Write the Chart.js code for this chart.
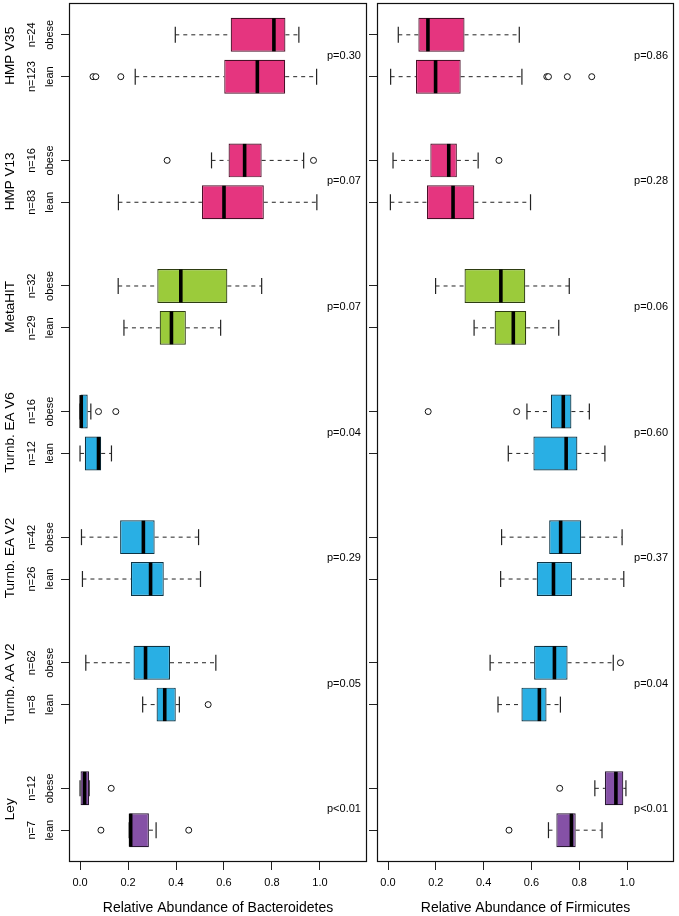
<!DOCTYPE html>
<html>
<head>
<meta charset="utf-8">
<script src="https://cdn.jsdelivr.net/npm/chart.js@4.4.1/dist/chart.umd.min.js"></script>
<style>
  html, body { margin: 0; padding: 0; background: #fff; }
  #wrap { position: relative; width: 679px; height: 916px; overflow: hidden; }
  canvas { position: absolute; top: 0; }
  #c1 { left: 0; }
  #c2 { left: 369px; }
</style>
</head>
<body>
<div id="wrap">
  <canvas id="c1" width="370" height="916"></canvas>
  <canvas id="c2" width="310" height="916"></canvas>
</div>
<script>
// ---------------- DATA ----------------
const groups = ["HMP V35", "HMP V13", "MetaHIT", "Turnb. EA V6", "Turnb. EA V2", "Turnb. AA V2", "Ley"];
const conditions = ["obese", "lean"];
const nObese = [24, 16, 32, 16, 42, 62, 12];
const nLean = [123, 83, 29, 12, 26, 8, 7];
const pBacteroidetes = ["p=0.30", "p=0.07", "p=0.07", "p=0.04", "p=0.29", "p=0.05", "p<0.01"];
const pFirmicutes = ["p=0.86", "p=0.28", "p=0.06", "p=0.60", "p=0.37", "p=0.04", "p<0.01"];
const xTickValues = [0.0, 0.2, 0.4, 0.6, 0.8, 1.0];

// box stats: [lower whisker, Q1, median, Q3, upper whisker]
const bactObese = [
  [0.397, 0.628, 0.808, 0.856, 0.912],
  [0.548, 0.619, 0.686, 0.757, 0.932],
  [0.159, 0.322, 0.420, 0.614, 0.757],
  [0.000, 0.002, 0.005, 0.032, 0.045],
  [0.006, 0.167, 0.264, 0.311, 0.494],
  [0.024, 0.223, 0.273, 0.375, 0.566],
  [0.000, 0.000, 0.019, 0.038, 0.038]
];
const bactLean = [
  [0.230, 0.601, 0.739, 0.855, 0.986],
  [0.160, 0.508, 0.600, 0.766, 0.987],
  [0.183, 0.332, 0.381, 0.441, 0.586],
  [0.000, 0.020, 0.077, 0.088, 0.131],
  [0.010, 0.212, 0.294, 0.349, 0.502],
  [0.261, 0.319, 0.353, 0.399, 0.414],
  [0.205, 0.205, 0.211, 0.287, 0.317]
];
const bactObeseOutliers = [[], [0.363, 0.973], [], [0.077, 0.149], [], [], [0.130]];
const bactLeanOutliers = [[0.054, 0.066, 0.170], [], [], [], [], [0.534], [0.087, 0.453]];

const firmObese = [
  [0.043, 0.127, 0.167, 0.320, 0.549],
  [0.021, 0.177, 0.254, 0.288, 0.377],
  [0.199, 0.320, 0.472, 0.574, 0.758],
  [0.581, 0.681, 0.733, 0.767, 0.842],
  [0.475, 0.674, 0.722, 0.808, 0.979],
  [0.427, 0.611, 0.696, 0.751, 0.942],
  [0.865, 0.907, 0.953, 0.984, 0.995]
];
const firmLean = [
  [0.011, 0.117, 0.199, 0.304, 0.560],
  [0.010, 0.163, 0.272, 0.361, 0.596],
  [0.360, 0.446, 0.524, 0.578, 0.714],
  [0.503, 0.608, 0.745, 0.792, 0.907],
  [0.471, 0.622, 0.692, 0.770, 0.986],
  [0.460, 0.558, 0.633, 0.663, 0.721],
  [0.671, 0.704, 0.767, 0.785, 0.895]
];
const firmObeseOutliers = [[], [0.464], [], [0.168, 0.538], [], [0.972], [0.718]];
const firmLeanOutliers = [[0.664, 0.671, 0.750, 0.852], [], [], [], [], [], [0.506]];

// ---------------- STYLE ----------------
const FONT = "'Liberation Sans', Arial, Helvetica, sans-serif";
const groupColors = ["#E5357F", "#E5357F", "#9BCB3B", "#29AFE4", "#29AFE4", "#29AFE4", "#8551A6"];
const groupBorders = ["#4a1029", "#4a1029", "#2e3d12", "#0d3445", "#0d3445", "#0d3445", "#2a1934"];

// slot positions on the y scale (obese above lean, blank slot between groups)
function slot(g, c) { return (groups.length - 1 - g) * 3 + (c === 0 ? 2 : 1); }
const yMin = 0.24, yMax = 3 * groups.length - 1 + 0.76;
const xMin = -0.046, xMax = 1.196;

function buildDatasets(obese, lean, obeseOut, leanOut) {
  const boxes = [], bg = [], bd = [], medians = [], caps = [], whiskers = [], outliers = [];
  groups.forEach((g, gi) => {
    [obese[gi], lean[gi]].forEach((s, ci) => {
      const y = slot(gi, ci);
      boxes.push({ x: [s[1], s[3]], y: y });
      bg.push(groupColors[gi]); bd.push(groupBorders[gi]);
      medians.push({ x: s[2], y: y });
      caps.push({ x: s[0], y: y }, { x: s[4], y: y });
      whiskers.push({ x: s[0], y: y }, { x: s[1], y: y }, { x: s[1], y: null });
      whiskers.push({ x: s[3], y: y }, { x: s[4], y: y }, { x: s[4], y: null });
    });
    obeseOut[gi].forEach(v => outliers.push({ x: v, y: slot(gi, 0) }));
    leanOut[gi].forEach(v => outliers.push({ x: v, y: slot(gi, 1) }));
  });
  return [
    { type: 'line', data: whiskers, borderColor: '#222', borderWidth: 1, borderDash: [4, 4],
      pointRadius: 0, spanGaps: false, fill: false, order: 5 },
    { type: 'scatter', data: caps, pointStyle: 'line', rotation: 90, pointRadius: 8,
      borderColor: '#222', borderWidth: 1.2, order: 4 },
    { type: 'bar', indexAxis: 'y', data: boxes, backgroundColor: bg, borderColor: bd,
      borderWidth: 1.2, borderSkipped: false, categoryPercentage: 1, barPercentage: 0.81, order: 3 },
    { type: 'scatter', data: medians, pointStyle: 'line', rotation: 90, pointRadius: 16.5,
      borderColor: '#000', borderWidth: 3.6, order: 2 },
    { type: 'scatter', data: outliers, pointStyle: 'circle', pointRadius: 3,
      backgroundColor: '#fff', borderColor: '#111', borderWidth: 1, order: 1 }
  ];
}

function framePlugin(pLabels, withLeftLabels) {
  return {
    id: 'frame',
    afterDatasetsDraw(chart) {
      const ctx = chart.ctx, a = chart.chartArea;
      const xs = chart.scales.x, ys = chart.scales.y;
      ctx.save();
      ctx.strokeStyle = '#111';
      ctx.lineWidth = 1.2;
      ctx.strokeRect(Math.round(a.left) + 0.5, Math.round(a.top) + 0.5,
        Math.round(a.right - a.left) - 1, Math.round(a.bottom - a.top) - 1);
      ctx.fillStyle = '#000';
      ctx.textAlign = 'center';
      ctx.textBaseline = 'middle';
      ctx.font = '11px ' + FONT;
      groups.forEach((g, gi) => {
        const ymid = (ys.getPixelForValue(slot(gi, 0)) + ys.getPixelForValue(slot(gi, 1))) / 2;
        ctx.fillText(pLabels[gi], xs.getPixelForValue(1.1), ymid);
      });
      if (withLeftLabels) {
        groups.forEach((g, gi) => {
          const yo = ys.getPixelForValue(slot(gi, 0));
          const yl = ys.getPixelForValue(slot(gi, 1));
          const rot = (txt, x, y, size) => {
            ctx.save();
            ctx.translate(x, y);
            ctx.rotate(-Math.PI / 2);
            ctx.font = size + 'px ' + FONT;
            ctx.fillText(txt, 0, 0);
            ctx.restore();
          };
          rot(g, a.left - 59, (yo + yl) / 2, 13.5);
          rot('n=' + nObese[gi], a.left - 37, yo, 11);
          rot('n=' + nLean[gi], a.left - 37, yl, 11);
          rot(conditions[0], a.left - 19, yo, 11);
          rot(conditions[1], a.left - 19, yl, 11);
        });
      }
      ctx.restore();
    }
  };
}

function makeChart(id, obese, lean, oOut, lOut, pLabels, title, leftWidth, padRight, withLeftLabels) {
  return new Chart(document.getElementById(id), {
    type: 'bar',
    data: { datasets: buildDatasets(obese, lean, oOut, lOut) },
    options: {
      responsive: false,
      maintainAspectRatio: false,
      animation: false,
      devicePixelRatio: 1,
      layout: { autoPadding: false, padding: { top: 3, right: padRight, bottom: 0, left: 0 } },
      plugins: { legend: { display: false }, tooltip: { enabled: false }, title: { display: false } },
      scales: {
        x: {
          type: 'linear', position: 'bottom', min: xMin, max: xMax, offset: false, grace: 0,
          beginAtZero: false,
          afterBuildTicks: s => { s.ticks = xTickValues.map(v => ({ value: v })); },
          afterFit: s => { s.height = 54; },
          ticks: { color: '#000', font: { size: 11, family: FONT }, padding: 6,
                   autoSkip: false, maxRotation: 0, callback: v => Number(v).toFixed(1) },
          grid: { offset: false, drawOnChartArea: false, drawTicks: true, tickLength: 8, color: '#222', lineWidth: 1 },
          border: { display: false },
          title: { display: true, text: title, color: '#000', font: { size: 14, family: FONT },
                   padding: { top: 0, bottom: -1 } }
        },
        y: {
          type: 'linear', position: 'left', min: yMin, max: yMax, offset: false, grace: 0,
          beginAtZero: false,
          afterBuildTicks: s => {
            const t = [];
            groups.forEach((g, gi) => { t.push({ value: slot(gi, 0) }, { value: slot(gi, 1) }); });
            s.ticks = t.sort((a, b) => a.value - b.value);
          },
          afterFit: s => { s.width = leftWidth; },
          ticks: { display: false },
          grid: { offset: false, drawOnChartArea: false, drawTicks: true, tickLength: 8, color: '#222', lineWidth: 1 },
          border: { display: false }
        }
      }
    },
    plugins: [framePlugin(pLabels, withLeftLabels)]
  });
}

makeChart('c1', bactObese, bactLean, bactObeseOutliers, bactLeanOutliers, pBacteroidetes,
  'Relative Abundance of Bacteroidetes', 69, 3, true);
makeChart('c2', firmObese, firmLean, firmObeseOutliers, firmLeanOutliers, pFirmicutes,
  'Relative Abundance of Firmicutes', 8, 5, false);
</script>
</body>
</html>
